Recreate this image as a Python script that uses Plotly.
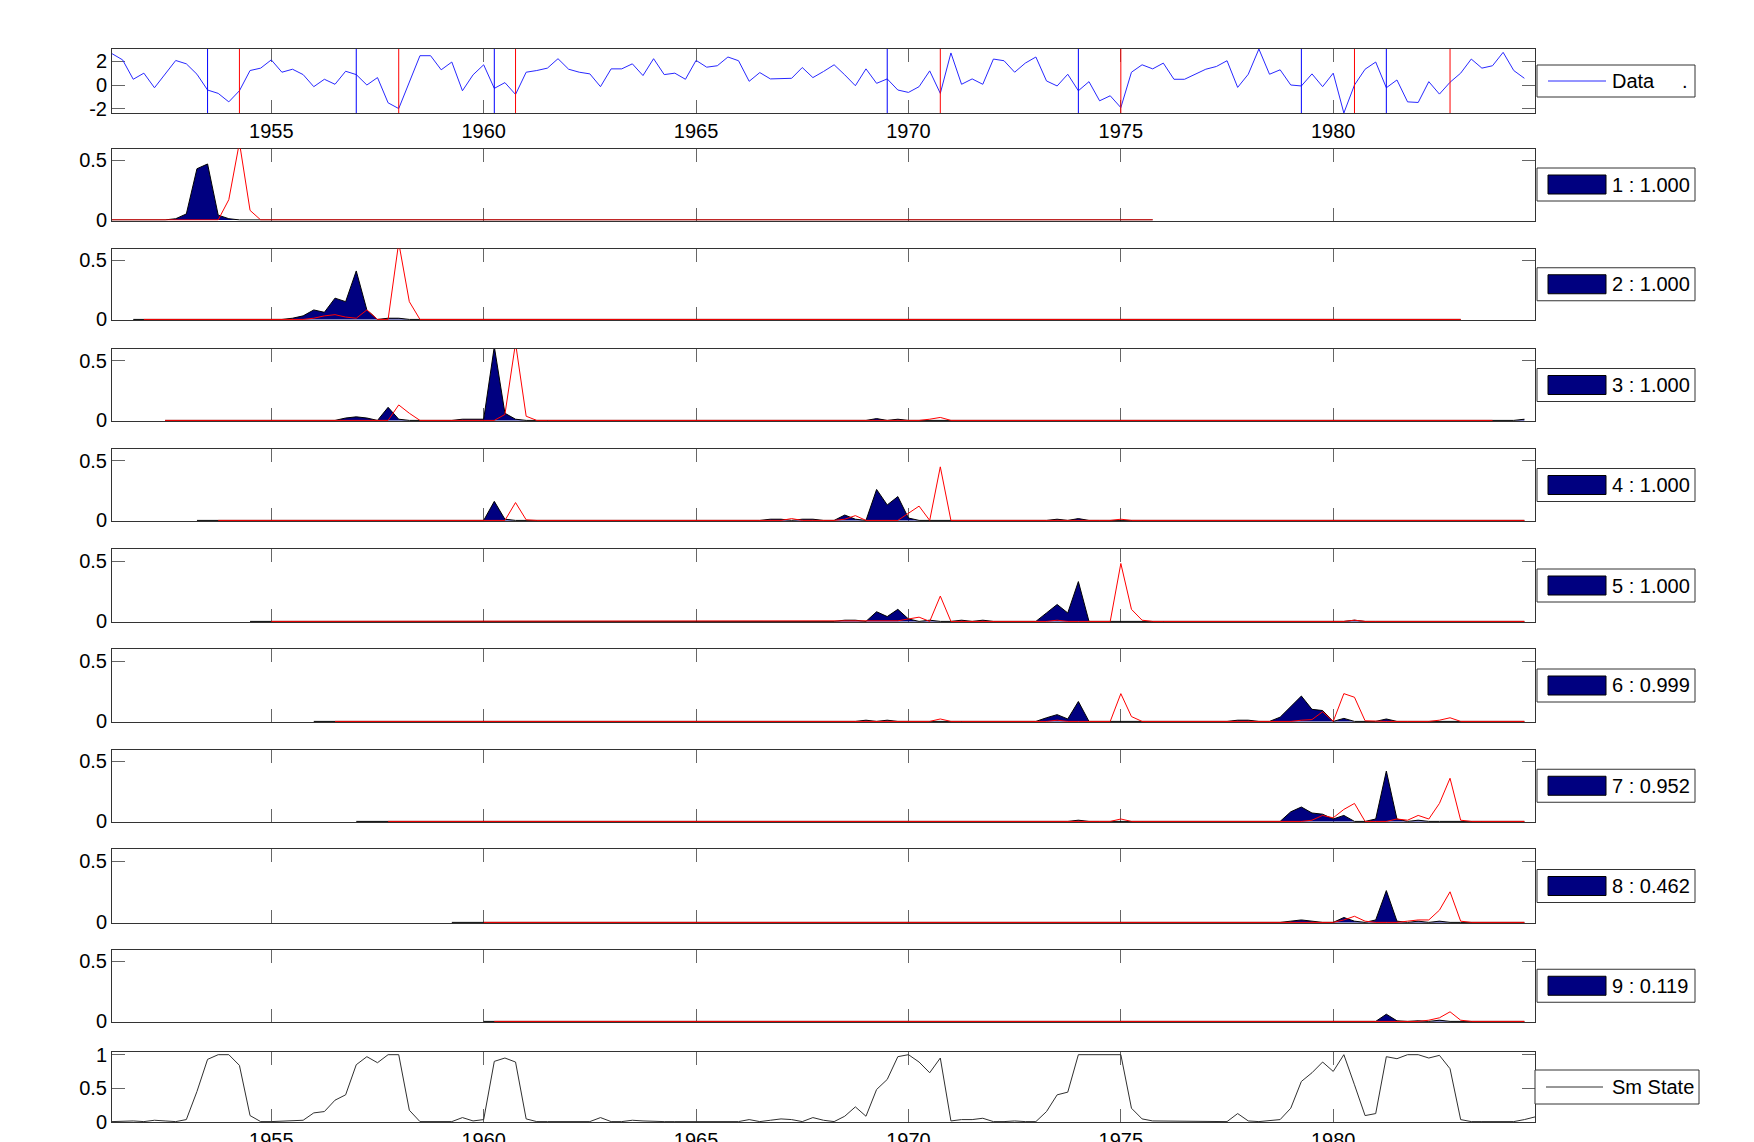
import plotly.graph_objects as go

# ---------------- data ----------------
START = 1951.25          # first quarter shown
STEP = 0.25              # quarterly data
X_RANGE = [1951.25, 1984.75]
YEAR_TICKS = [1955, 1960, 1965, 1970, 1975, 1980]

DATA = [2.62, 2.10, 0.48, 0.99, -0.23, 0.90, 2.05, 1.77, 0.90, -0.42,
        -0.70, -1.41, -0.48, 1.21, 1.41, 2.10, 1.07, 1.32, 0.87, -0.14,
        0.48, 0.06, 1.15, 0.87, 0.00, 0.62, -1.49, -1.97, 0.28, 2.45,
        2.45, 1.27, 1.92, -0.48, 0.85, 1.69, -0.28, 0.20, -0.79, 1.07,
        1.21, 1.41, 2.20, 1.32, 1.07, 0.93, -0.14, 1.35, 1.35, 1.77,
        0.79, 2.20, 0.87, 0.99, 0.48, 2.06, 1.49, 1.61, 2.34, 2.03,
        0.31, 1.04, 0.51, 0.56, 0.56, 1.46, 0.62, 1.13, 1.69, 0.85,
        -0.06, 1.35, 0.14, 0.51, -0.42, -0.62, -0.14, 1.18, -0.70, 2.68,
        0.06, 0.51, 0.06, 2.17, 2.03, 1.07, 1.83, 2.34, 0.34, -0.08,
        0.90, -0.48, 0.28, -1.32, -0.90, -1.89, 1.07, 1.69, 1.35, 1.83,
        0.48, 0.48, 0.90, 1.32, 1.55, 2.03, -0.20, 0.90, 3.01, 0.90,
        1.27, 0.00, -0.08, 0.93, -0.14, 0.99, -2.34, 0.00, 1.32, 1.92,
        -0.23, 0.42, -1.41, -1.46, 0.28, -0.76, 0.23, 0.99, 2.17, 1.41,
        1.61, 2.73, 1.21, 0.56]

SM_STATE = [0.00, 0.01, 0.01, 0.00, 0.02, 0.01, 0.00, 0.03, 0.45, 0.93,
            1.00, 1.00, 0.84, 0.09, 0.00, 0.00, 0.01, 0.01, 0.02, 0.13,
            0.15, 0.32, 0.40, 0.85, 0.97, 0.88, 1.00, 1.00, 0.17, 0.00,
            0.00, 0.00, 0.00, 0.06, 0.01, 0.03, 0.90, 0.95, 0.89, 0.04,
            0.00, 0.00, 0.00, 0.00, 0.00, 0.00, 0.06, 0.00, 0.00, 0.02,
            0.01, 0.00, 0.00, 0.00, 0.00, 0.00, 0.00, 0.00, 0.00, 0.00,
            0.03, 0.00, 0.02, 0.04, 0.03, 0.00, 0.06, 0.02, 0.00, 0.08,
            0.22, 0.08, 0.48, 0.63, 0.97, 1.00, 0.89, 0.73, 0.95, 0.01,
            0.03, 0.03, 0.05, 0.00, 0.00, 0.01, 0.00, 0.00, 0.15, 0.40,
            0.44, 1.00, 1.00, 1.00, 1.00, 1.00, 0.20, 0.04, 0.01, 0.01,
            0.00, 0.01, 0.00, 0.00, 0.00, 0.00, 0.12, 0.01, 0.00, 0.01,
            0.03, 0.20, 0.60, 0.73, 0.89, 0.75, 1.00, 0.55, 0.09, 0.12,
            0.97, 0.94, 1.00, 1.00, 0.95, 0.99, 0.79, 0.03, 0.00, 0.00,
            0.00, 0.00, 0.00, 0.03, 0.07]

BLUE_BREAKS = [1953.5, 1957.0, 1960.25, 1969.5, 1974.0, 1979.25, 1981.25]
RED_BREAKS = [1954.25, 1958.0, 1960.75, 1970.75, 1975.0, 1980.5, 1982.75]

LEGEND_PROBS = ["1.000", "1.000", "1.000", "1.000", "1.000",
                "0.999", "0.952", "0.462", "0.119"]

# quarter-index spans over which each panel's curves are drawn
BLUE_SPAN = [(0, 98), (2, 127), (5, 133), (8, 133), (13, 133),
             (19, 133), (23, 133), (32, 133), (35, 133)]
RED_SPAN = [(0, 98), (3, 127), (5, 130), (10, 133), (15, 133),
            (21, 133), (26, 133), (35, 133), (36, 133)]

# non-zero probabilities (quarter index -> value); zero elsewhere in span
BLUE_MASS = [
    {6: 0.01, 7: 0.05, 8: 0.43, 9: 0.47, 10: 0.04, 11: 0.01},
    {17: 0.01, 18: 0.03, 19: 0.08, 20: 0.06, 21: 0.18, 22: 0.15, 23: 0.41,
     24: 0.08, 26: 0.01, 27: 0.01},
    {22: 0.02, 23: 0.03, 24: 0.02, 26: 0.11, 27: 0.01, 33: 0.01, 34: 0.01,
     35: 0.01, 36: 0.62, 37: 0.06, 38: 0.01, 72: 0.015, 74: 0.01, 133: 0.01},
    {36: 0.16, 37: 0.01, 62: 0.01, 63: 0.01, 65: 0.01, 66: 0.01, 69: 0.045,
     70: 0.01, 72: 0.26, 73: 0.13, 74: 0.20, 75: 0.02, 89: 0.01, 91: 0.015},
    {69: 0.01, 70: 0.01, 72: 0.08, 73: 0.04, 74: 0.10, 75: 0.02, 77: 0.01,
     80: 0.01, 82: 0.01, 88: 0.07, 89: 0.14, 90: 0.07, 91: 0.33, 111: 0.005,
     117: 0.01},
    {71: 0.01, 73: 0.01, 88: 0.03, 89: 0.056, 90: 0.02, 91: 0.165, 106: 0.01,
     107: 0.01, 110: 0.035, 111: 0.12, 112: 0.21, 113: 0.10, 114: 0.09,
     116: 0.025, 120: 0.02},
    {91: 0.01, 111: 0.08, 112: 0.12, 113: 0.07, 114: 0.06, 115: 0.02,
     116: 0.05, 119: 0.02, 120: 0.42, 121: 0.02, 123: 0.01},
    {111: 0.01, 112: 0.02, 113: 0.01, 116: 0.04, 117: 0.01, 119: 0.02,
     120: 0.26, 121: 0.01, 123: 0.01, 125: 0.01},
    {120: 0.06, 121: 0.005, 123: 0.005, 125: 0.01},
]
RED_MASS = [
    {11: 0.17, 12: 0.65, 13: 0.08},
    {19: 0.01, 20: 0.03, 21: 0.04, 22: 0.02, 23: 0.01, 24: 0.08, 27: 0.65,
     28: 0.15},
    {27: 0.13, 28: 0.06, 37: 0.05, 38: 0.65, 39: 0.035, 74: 0.005, 77: 0.01,
     78: 0.025},
    {38: 0.15, 39: 0.005, 64: 0.015, 69: 0.01, 70: 0.04, 75: 0.06, 76: 0.12,
     78: 0.45, 95: 0.01},
    {74: 0.005, 75: 0.02, 76: 0.035, 78: 0.21, 89: 0.01, 95: 0.48, 96: 0.10,
     97: 0.01, 117: 0.01},
    {72: 0.005, 78: 0.02, 89: 0.01, 95: 0.23, 96: 0.04, 107: 0.005,
     112: 0.01, 113: 0.015, 114: 0.08, 116: 0.23, 117: 0.20, 118: 0.005,
     125: 0.01, 126: 0.03},
    {95: 0.02, 113: 0.01, 114: 0.05, 115: 0.03, 116: 0.10, 117: 0.15,
     121: 0.02, 122: 0.01, 123: 0.05, 124: 0.02, 125: 0.15, 126: 0.36,
     127: 0.01},
    {116: 0.02, 117: 0.05, 118: 0.01, 122: 0.01, 123: 0.02, 124: 0.02,
     125: 0.10, 126: 0.25, 127: 0.01},
    {117: 0.005, 124: 0.01, 125: 0.03, 126: 0.08, 127: 0.01},
]

# ---------------- layout geometry (pixels) ----------------
W, H = 1754, 1142
X_LEFT, X_RIGHT = 112, 1535
PANELS = [(49, 113), (148.5, 220.5), (248.5, 320), (349, 421), (449, 521),
          (549, 622), (649, 722), (749.5, 822), (849, 923), (949.5, 1022),
          (1052, 1122)]

FONT = "Liberation Sans, Arial, Helvetica, sans-serif"
FS = 20
AX_COL = "#333333"
TICK_COL = "#666666"


def px_x(p):
    return p / W


def px_y(p):
    return 1 - p / H


def qx(i):
    return START + STEP * i


fig = go.Figure()
layout = dict(width=W, height=H, autosize=False,
              margin=dict(l=0, r=0, t=0, b=0, pad=0),
              paper_bgcolor="white", plot_bgcolor="white",
              showlegend=False, font=dict(family=FONT, size=FS, color="black"))

shapes = []
annotations = []

n_panels = len(PANELS)
for k, (top, bot) in enumerate(PANELS):
    suffix = "" if k == 0 else str(k + 1)
    xa = dict(domain=[px_x(X_LEFT), px_x(X_RIGHT)], range=X_RANGE,
              anchor="y" + suffix, showline=True, mirror="ticks",
              linecolor=AX_COL, linewidth=1, ticks="inside", ticklen=13,
              tickcolor=TICK_COL, tickwidth=1, tickvals=YEAR_TICKS,
              showgrid=False, zeroline=False, automargin=False,
              layer="below traces",
              showticklabels=(k == 0 or k == n_panels - 1),
              tickfont=dict(family=FONT, size=FS, color="black"))
    ya = dict(domain=[px_y(bot), px_y(top)], anchor="x" + suffix,
              showline=True, mirror="ticks", linecolor=AX_COL, linewidth=1,
              ticks="inside", ticklen=13, tickcolor=TICK_COL, tickwidth=1,
              showgrid=False, zeroline=False, automargin=False,
              layer="below traces",
              tickfont=dict(family=FONT, size=FS, color="black"))
    if k == 0:
        ya.update(range=[min(DATA), max(DATA)], tickvals=[-2, 0, 2],
                  ticktext=["-2", "0", "2"])
    elif k == n_panels - 1:
        ya.update(range=[-0.006, 1.04], tickvals=[0, 0.5, 1],
                  ticktext=["0", "0.5", "1"])
    else:
        ya.update(range=[-0.005, 0.6], tickvals=[0, 0.5],
                  ticktext=["0", "0.5"])
    layout["xaxis" + suffix] = xa
    layout["yaxis" + suffix] = ya

# ---- top panel: data + break lines ----
for xb in BLUE_BREAKS:
    shapes.append(dict(type="line", xref="x", yref="y domain", x0=xb, x1=xb,
                       y0=0, y1=1, line=dict(color="rgb(0,0,255)", width=1)))
for xb in RED_BREAKS:
    shapes.append(dict(type="line", xref="x", yref="y domain", x0=xb, x1=xb,
                       y0=0, y1=1, line=dict(color="rgb(255,0,0)", width=1)))
fig.add_trace(go.Scatter(x=[qx(i) for i in range(len(DATA))], y=DATA,
                         mode="lines", line=dict(color="rgb(40,40,255)", width=1),
                         xaxis="x", yaxis="y"))

# ---- break-probability panels ----
for k in range(9):
    suffix = str(k + 2)
    b0, b1 = BLUE_SPAN[k]
    xs = [qx(i) for i in range(b0, b1 + 1)]
    ys = [BLUE_MASS[k].get(i, 0.0) for i in range(b0, b1 + 1)]
    fig.add_trace(go.Scatter(x=xs, y=ys, mode="lines", fill="tozeroy",
                             fillcolor="rgb(0,0,128)",
                             line=dict(color="black", width=1),
                             xaxis="x" + suffix, yaxis="y" + suffix))
    r0, r1 = RED_SPAN[k]
    xs = [qx(i) for i in range(r0, r1 + 1)]
    ys = [RED_MASS[k].get(i, 0.0) for i in range(r0, r1 + 1)]
    fig.add_trace(go.Scatter(x=xs, y=ys, mode="lines",
                             line=dict(color="rgb(255,0,0)", width=1),
                             xaxis="x" + suffix, yaxis="y" + suffix))

# ---- smoothed state ----
fig.add_trace(go.Scatter(x=[qx(i) for i in range(len(SM_STATE))], y=SM_STATE,
                         mode="lines", line=dict(color="#303030", width=1),
                         xaxis="x11", yaxis="y11"))

# ---------------- legend boxes ----------------
def box(x0, x1, y0, y1):
    shapes.append(dict(type="rect", xref="paper", yref="paper",
                       x0=px_x(x0), x1=px_x(x1), y0=px_y(y1), y1=px_y(y0),
                       line=dict(color=AX_COL, width=1), fillcolor="white",
                       layer="above"))


def label(x, y, text):
    annotations.append(dict(xref="paper", yref="paper", x=px_x(x), y=px_y(y),
                            text=text, showarrow=False, xanchor="left",
                            yanchor="middle",
                            font=dict(family=FONT, size=FS, color="black")))


# Data legend
c = (PANELS[0][0] + PANELS[0][1]) / 2
box(1537, 1695, c - 16, c + 16)
shapes.append(dict(type="line", xref="paper", yref="paper", x0=px_x(1548),
                   x1=px_x(1606), y0=px_y(c), y1=px_y(c),
                   line=dict(color="rgb(40,40,255)", width=1), layer="above"))
label(1610, c, "Data")
label(1680, c, ".")

for k in range(9):
    top, bot = PANELS[k + 1]
    c = (top + bot) / 2
    box(1537, 1695, c - 16.5, c + 16.5)
    shapes.append(dict(type="rect", xref="paper", yref="paper",
                       x0=px_x(1548), x1=px_x(1606), y0=px_y(c + 9.5),
                       y1=px_y(c - 9.5), line=dict(color="black", width=1),
                       fillcolor="rgb(0,0,128)", layer="above"))
    label(1610, c, f"{k + 1} : {LEGEND_PROBS[k]}")

# Sm State legend
top, bot = PANELS[-1]
c = (top + bot) / 2
box(1535, 1699, c - 17, c + 17)
shapes.append(dict(type="line", xref="paper", yref="paper", x0=px_x(1546),
                   x1=px_x(1603), y0=px_y(c), y1=px_y(c),
                   line=dict(color="#303030", width=1), layer="above"))
label(1610, c, "Sm State")

layout["shapes"] = shapes
layout["annotations"] = annotations
fig.update_layout(**layout)
fig.write_html("out.html",
               config={"displayModeBar": False},
               post_script="document.body.style.margin='0';"
                           "document.body.style.padding='0';")
